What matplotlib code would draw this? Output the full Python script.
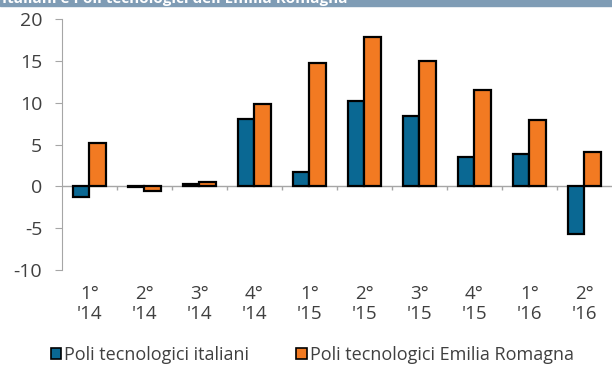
import numpy as np
import matplotlib
matplotlib.use("Agg")
import matplotlib.pyplot as plt

plt.rcParams['font.family'] = ['Open Sans', 'DejaVu Sans']
plt.rcParams['axes.unicode_minus'] = False

# data
quarters = ["1°\n'14", "2°\n'14", "3°\n'14", "4°\n'14", "1°\n'15",
            "2°\n'15", "3°\n'15", "4°\n'15", "1°\n'16", "2°\n'16"]
italiani = [-1.3, -0.1, 0.3, 8.0, 1.7, 10.2, 8.4, 3.5, 3.9, -5.7]
emilia = [5.2, -0.6, 0.5, 9.8, 14.8, 17.9, 15.0, 11.5, 7.9, 4.1]
yticks = [-10, -5, 0, 5, 10, 15, 20]

blue = "#0a6893"
orange = "#f27a22"
grey = "#a6a6a6"
txt = "#404040"

fig = plt.figure(figsize=(6.12, 3.65), dpi=100)
ax = fig.add_axes([0.101, 0.26, 0.899, 0.688])

x = np.arange(len(quarters))
w = 0.3
ax.bar(x - w/2, italiani, w, color=blue, edgecolor="black", linewidth=1.6,
       label="Poli tecnologici italiani", zorder=3)
ax.bar(x + w/2, emilia, w, color=orange, edgecolor="black", linewidth=1.6,
       label="Poli tecnologici Emilia Romagna", zorder=3)

ax.set_xlim(-0.5, len(quarters) - 0.5)
ax.set_ylim(-10, 20)
ax.set_yticks(yticks)
ax.set_xticks(x)
ax.set_xticklabels(quarters, linespacing=1.1)

# zero line with category separators
ax.axhline(0, color=grey, lw=1, zorder=2)
ax.vlines(x[:-1] + 0.5, -0.45, 0, color=grey, lw=1, zorder=2)

for s in ["top", "right", "bottom"]:
    ax.spines[s].set_visible(False)
ax.spines["left"].set_color(grey)
ax.tick_params(axis="y", colors=grey, length=5, labelcolor=txt, labelsize=14, pad=9)
ax.tick_params(axis="x", length=0, labelcolor=txt, labelsize=13.5, pad=11)

leg = fig.legend(loc="center", bbox_to_anchor=(0.51, 0.028), ncol=2, frameon=False,
                 fontsize=13, handlelength=0.6, handleheight=0.6,
                 handletextpad=0.15, columnspacing=2.6, labelcolor=txt)
for h in leg.legend_handles:
    h.set_linewidth(1.2)

# title band at top (cut off in the original)
fig.patches.append(plt.Rectangle((0, 1 - 6/365), 1, 6/365, transform=fig.transFigure,
                                 color="#7f9cb5", zorder=0))
fig.text(0.003, 1 - 6/365, "Italiani e Poli tecnologici dell'Emilia Romagna",
         color="white", fontweight="bold", fontsize=11, va="bottom", ha="left")

fig.savefig("out.png", dpi=100)
